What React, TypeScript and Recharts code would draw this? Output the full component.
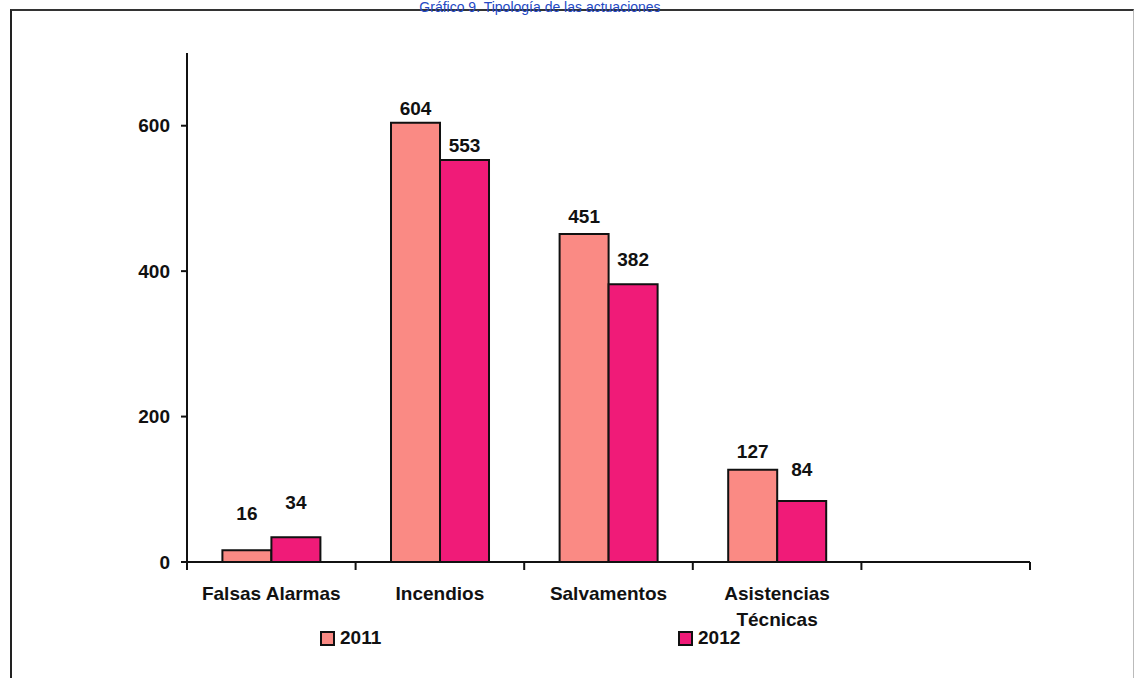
import { BarChart, Bar, XAxis, YAxis, Legend, LabelList } from 'recharts';

const categories = ['Falsas Alarmas', 'Incendios', 'Salvamentos', 'Asistencias Técnicas', ''];
const values2011 = [16, 604, 451, 127, null];
const values2012 = [34, 553, 382, 84, null];
const yTicks = [0, 200, 400, 600];

// how far above each bar top the value label sits (the scan is not uniform)
const labelGap2011 = [30, 8, 11, 12, 0];
const labelGap2012 = [28, 8, 18, 25, 0];

const W = 1135;
const H = 678;
const MARGIN = { top: 53, right: 105, left: 127, bottom: 56 };
const Y_AXIS_W = 60;
const PLOT_W = W - MARGIN.left - MARGIN.right - Y_AXIS_W;
const FONT = '"Liberation Sans", Arial, sans-serif';
const INK = '#111';

const COLOR_2011 = '#FA8A84';
const COLOR_2012 = '#F01B78';

const data = categories.map((name, i) => ({
  name,
  y2011: values2011[i],
  y2012: values2012[i],
}));

const series = [
  { key: 'y2011', name: '2011', color: COLOR_2011, gaps: labelGap2011 },
  { key: 'y2012', name: '2012', color: COLOR_2012, gaps: labelGap2012 },
];
const legendLeft = [320, 678];

// wrap a category name onto two lines when it is wider than its band (Excel does this)
function wrapLabel(label: string, band: number): string[] {
  const approxWidth = label.length * 10.4;
  if (approxWidth <= band || !label.includes(' ')) return [label];
  const cut = label.indexOf(' ');
  return [label.slice(0, cut), label.slice(cut + 1)];
}

function CategoryTick(props: any) {
  const { x, y, payload, index } = props;
  const band = PLOT_W / categories.length;
  const lines = wrapLabel(String(payload.value), band - 4);
  return (
    <g>
      <line x1={x - band / 2} x2={x - band / 2} y1={y} y2={y + 8} stroke={INK} strokeWidth={2} />
      {index === categories.length - 1 && (
        <line x1={x + band / 2} x2={x + band / 2} y1={y} y2={y + 8} stroke={INK} strokeWidth={2} />
      )}
      <text
        x={x}
        y={y + 38}
        textAnchor="middle"
        fill={INK}
        style={{ fontSize: 19, fontWeight: 700, fontFamily: FONT }}
      >
        {lines.map((ln, i) => (
          <tspan key={i} x={x} dy={i === 0 ? 0 : 26}>
            {ln}
          </tspan>
        ))}
      </text>
    </g>
  );
}

function makeLabel(gaps: number[]) {
  return (p: any) => {
    if (p.value == null) return null;
    return (
      <text
        x={p.x + p.width / 2}
        y={p.y - gaps[p.index]}
        textAnchor="middle"
        fill={INK}
        style={{ fontSize: 19, fontWeight: 700, fontFamily: FONT }}
      >
        {p.value}
      </text>
    );
  };
}

function renderLegend() {
  return (
    <div style={{ position: 'relative', width: W, height: 22, fontFamily: FONT, fontWeight: 700, fontSize: 19, color: INK }}>
      {series.map((s, i) => (
        <div
          key={s.key}
          style={{ position: 'absolute', left: legendLeft[i], top: 0, height: 22, display: 'flex', alignItems: 'center' }}
        >
          <span
            style={{ display: 'inline-block', width: 11, height: 11, background: s.color, border: `2px solid ${INK}`, marginRight: 5 }}
          />
          {s.name}
        </div>
      ))}
    </div>
  );
}

export default function App() {
  return (
    <div style={{ position: 'absolute', left: 0, top: 0, width: W, height: H, overflow: 'hidden', background: '#fff' }}>
      <div
        style={{
          position: 'absolute',
          left: 10,
          top: 9,
          width: 1121,
          height: 720,
          borderLeft: '2px solid #222',
          borderTop: '2px solid #333',
          borderRight: '1px solid #bbb',
        }}
      />
      <div
        style={{
          position: 'absolute',
          left: 0,
          top: 0,
          width: 1080,
          textAlign: 'center',
          fontFamily: FONT,
          fontSize: 14,
          lineHeight: '14px',
          color: '#2449C4',
        }}
      >
        Gráfico 9. Tipología de las actuaciones
      </div>
      <BarChart
        width={W}
        height={H}
        data={data}
        margin={MARGIN}
        barCategoryGap="21%"
        barGap={0}
        style={{ position: 'absolute', left: 0, top: 0 }}
      >
        <XAxis
          dataKey="name"
          height={60}
          interval={0}
          tickSize={0}
          tickMargin={0}
          axisLine={{ stroke: INK, strokeWidth: 2 }}
          tickLine={false}
          tick={<CategoryTick />}
        />
        <YAxis
          width={Y_AXIS_W}
          domain={[0, 700]}
          ticks={yTicks}
          interval={0}
          tickSize={6}
          tickMargin={11}
          axisLine={{ stroke: INK, strokeWidth: 2 }}
          tickLine={{ stroke: INK, strokeWidth: 2 }}
          tick={{ fill: INK, fontSize: 19, fontWeight: 700, fontFamily: FONT }}
        />
        <Legend
          layout="horizontal"
          verticalAlign="middle"
          align="center"
          content={renderLegend}
          wrapperStyle={{ top: 627, left: 0, width: W }}
        />
        {series.map((s) => (
          <Bar
            key={s.key}
            dataKey={s.key}
            name={s.name}
            fill={s.color}
            stroke={INK}
            strokeWidth={2}
            isAnimationActive={false}
          >
            <LabelList dataKey={s.key} content={makeLabel(s.gaps)} />
          </Bar>
        ))}
      </BarChart>
    </div>
  );
}
